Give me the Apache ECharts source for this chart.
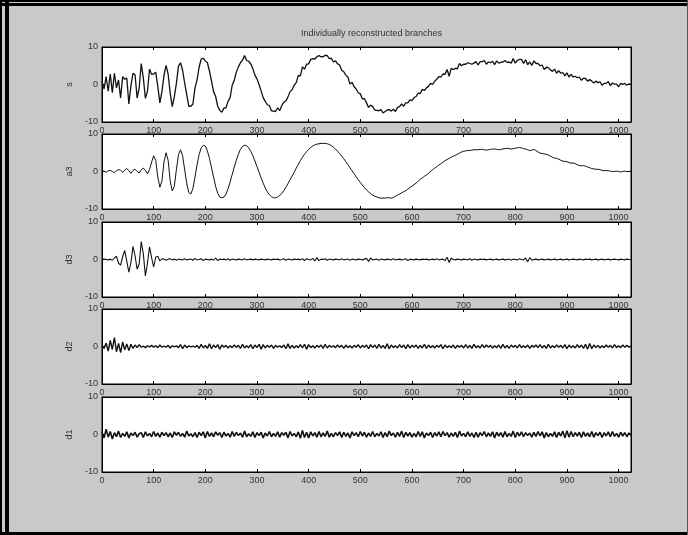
<!DOCTYPE html>
<html>
<head>
<meta charset="utf-8">
<title>Individually reconstructed branches</title>
<script src="https://cdn.jsdelivr.net/npm/echarts@6/dist/echarts.min.js"></script>
<style>
  html, body { margin: 0; padding: 0; background: #c9c9c9; }
  #chart { width: 688px; height: 535px; }
</style>
</head>
<body>
<div id="chart"></div>
<script>
// samples are read every 4 points, from 0 to 1024
const step = 4;
const xTicks = [0, 100, 200, 300, 400, 500, 600, 700, 800, 900, 1000];
const yTicks = [-10, 0, 10];
const names = ["s", "a3", "d3", "d2", "d1"];
const title = "Individually reconstructed branches";

const s = [
  0.8, -1.2, 2.1, -1.8, 2.8, -2.2, 3.0, -0.9, 1.2, -3.6, 2.1, 1.4, 1.7, -5.2, -0.3, 3.0,
  2.6, -3.6, -0.9, 5.6, 1.7, -3.7, -1.8, 4.1, 2.7, 2.8, 3.3, -0.5, -4.9, -1.9, 2.4, 5.1,
  2.8, -2.3, -5.9, -3.3, 0.3, 4.9, 5.8, 3.8, 0.4, -2.7, -5.8, -5.8, -5.2, -0.9, 1.2, 4.6,
  6.8, 7.0, 6.3, 5.8, 3.6, 0.9, -1.9, -3.2, -5.8, -6.9, -7.4, -6.3, -6.2, -4.5, -3.5, -0.2,
  1.1, 3.3, 4.7, 5.8, 6.5, 7.7, 6.4, 6.2, 5.5, 4.2, 2.5, 1.5, 0.0, -1.7, -3.5, -4.5,
  -5.4, -5.6, -7.0, -7.1, -7.2, -6.2, -7.0, -5.6, -4.7, -4.4, -3.3, -1.9, -1.4, -0.2, 0.5, 2.4,
  2.3, 4.7, 4.1, 5.4, 5.5, 6.7, 6.9, 6.8, 7.4, 7.7, 7.4, 7.4, 7.8, 7.7, 6.9, 7.0,
  6.0, 6.3, 5.5, 5.2, 3.8, 3.4, 2.5, 2.0, 0.1, 0.6, -0.6, -1.2, -2.2, -2.5, -3.8, -3.8,
  -4.9, -6.1, -5.5, -5.9, -6.8, -6.9, -7.0, -6.7, -7.6, -7.2, -6.8, -6.7, -7.1, -6.6, -7.2, -6.1,
  -5.9, -5.2, -5.8, -4.9, -4.9, -4.1, -4.3, -3.5, -3.2, -2.3, -2.4, -1.3, -1.6, -0.9, -0.5, 0.3,
  0.0, 0.9, 1.4, 2.1, 2.0, 2.8, 2.7, 4.0, 2.2, 4.3, 4.0, 4.3, 4.2, 5.6, 5.0, 5.4,
  5.4, 5.8, 5.6, 5.4, 5.7, 6.1, 5.2, 6.1, 6.1, 6.4, 5.4, 6.0, 5.8, 6.2, 5.3, 6.3,
  5.7, 5.9, 6.0, 6.4, 5.9, 6.0, 5.7, 6.9, 5.7, 6.4, 6.7, 6.7, 5.6, 6.6, 5.3, 6.0,
  5.1, 6.3, 5.6, 5.6, 5.0, 5.2, 4.0, 4.6, 4.5, 3.9, 3.5, 4.1, 3.0, 3.7, 3.0, 3.2,
  2.3, 3.1, 2.0, 2.7, 2.0, 2.2, 1.8, 2.0, 1.1, 1.7, 1.6, 0.9, 1.3, 0.9, 0.4, 0.9,
  0.5, 0.7, -0.2, 0.3, 0.3, 0.8, -0.3, 0.4, 0.1, 0.1, -0.6, 0.3, 0.0, 0.3, -0.2, 0.2,
  0.0
];

const a3 = [
  0, 0.1, -0.2, 0.2, 0.3, 0, -0.3, 0.2, 0.5, 0.3, -0.2, 0.4, 0.8, 0.2, -0.5, 0.3,
  0.6, 0, -0.4, 0.5, 0.9, 0.3, -0.6, 0.5, 2.5, 4.2, 3.0, -1.5, -4.2, -2.5, 2.5, 5.0,
  3.0, -2.5, -5.2, -4.0, 0.5, 4.5, 5.8, 4.2, 0.5, -3.2, -5.6, -6.0, -4.5, -1.5, 1.8, 4.5,
  6.3, 7.0, 6.8, 5.5, 3.5, 1.0, -1.5, -4.0, -5.8, -6.8, -7.0, -6.8, -6.0, -4.6, -2.8, -0.8,
  1.2, 3.0, 4.6, 5.9, 6.7, 7.0, 6.9, 6.3, 5.4, 4.2, 2.8, 1.3, -0.2, -1.7, -3.1, -4.4,
  -5.4, -6.2, -6.7, -7.0, -7.0, -6.8, -6.4, -5.8, -5.1, -4.2, -3.2, -2.2, -1.2, -0.2, 0.9, 1.9,
  2.9, 3.8, 4.6, 5.3, 5.9, 6.4, 6.8, 7.1, 7.3, 7.4, 7.5, 7.5, 7.5, 7.4, 7.2, 6.9,
  6.5, 6.0, 5.4, 4.8, 4.1, 3.4, 2.6, 1.8, 1.0, 0.2, -0.6, -1.4, -2.2, -2.9, -3.6, -4.3,
  -4.9, -5.4, -5.9, -6.3, -6.6, -6.8, -7.0, -7.1, -7.1, -7.1, -7.0, -7.0, -7.1, -6.9, -6.6, -6.3,
  -6.0, -5.7, -5.4, -5.1, -4.7, -4.3, -3.9, -3.5, -3.1, -2.6, -2.1, -1.7, -1.3, -0.9, -0.5, 0.0,
  0.5, 0.9, 1.3, 1.7, 2.1, 2.5, 2.9, 3.2, 3.5, 3.8, 4.1, 4.3, 4.6, 4.9, 5.2, 5.4,
  5.5, 5.6, 5.6, 5.7, 5.8, 5.8, 5.8, 5.9, 5.9, 5.8, 5.7, 5.8, 5.9, 6.0, 6.0, 5.9,
  5.8, 5.9, 6.0, 6.1, 6.2, 6.1, 6.0, 6.1, 6.2, 6.3, 6.4, 6.3, 6.1, 6.0, 5.8, 5.6,
  5.7, 5.9, 5.6, 5.2, 4.9, 4.8, 4.7, 4.6, 4.4, 4.1, 3.8, 3.6, 3.5, 3.3, 3.0, 2.8,
  2.7, 2.6, 2.4, 2.2, 2.3, 2.1, 1.8, 1.6, 1.5, 1.6, 1.4, 1.2, 1.0, 0.8, 0.7, 0.6,
  0.6, 0.5, 0.3, 0.2, 0.3, 0.2, 0.1, 0.0, 0.0, 0.1, 0.0, -0.1, 0.0, 0.1, 0.0, 0.0,
  0.1
];

const d3 = [
  0, 0.1, 0, -0.1, 0.1, -0.2, 0.4, 0.9, -1.0, -1.5, 0.8, 2.4, -0.5, -3.4, -0.8, 3.5,
  1.0, -2.6, -1.2, 4.8, 1.5, -4.4, -1.0, 3.4, 0.5, -2.0, 0.6, 0.9, -0.4, 0.2, 0.1, -0.2,
  0.1, 0.2, -0.1, 0.1, -0.2, 0.1, 0.0, -0.1, 0.2, -0.1, 0.0, 0.1, -0.2, 0.3, -0.1, 0.0,
  0.2, -0.3, 0.1, 0.0, -0.1, 0.1, -0.2, 0.4, -0.3, 0.1, 0.0, 0.1, -0.1, 0.2, -0.2, 0.1,
  0.0, -0.1, 0.1, 0.0, -0.1, 0.2, -0.1, 0.0, 0.1, -0.1, 0.1, 0.0, -0.1, 0.1, 0.0, -0.1,
  0.1, 0.0, -0.1, 0.1, 0.0, 0.1, -0.1, 0.0, 0.2, -0.2, 0.1, 0.0, -0.1, 0.1, 0.0, 0.1,
  -0.1, 0.2, -0.3, 0.2, 0.0, -0.1, 0.3, -0.4, 0.5, -0.3, 0.1, 0.0, 0.2, -0.2, 0.1, 0.0,
  -0.1, 0.1, 0.0, -0.1, 0.2, -0.1, 0.0, 0.1, -0.2, 0.1, 0.0, -0.1, 0.1, 0.0, -0.1, 0.1,
  0.3, -0.5, 0.4, -0.1, 0.0, 0.1, -0.2, 0.1, 0.0, -0.1, 0.1, 0.0, -0.1, 0.2, -0.1, 0.0,
  0.1, -0.1, 0.0, 0.2, -0.3, 0.1, 0.0, -0.1, 0.1, 0.0, -0.1, 0.1, 0.0, 0.1, -0.1, 0.0,
  0.1, -0.1, 0.2, -0.1, 0.0, 0.1, -0.3, 0.6, -0.8, 0.4, 0.0, -0.1, 0.1, 0.0, -0.1, 0.1,
  0.0, -0.1, 0.2, -0.2, 0.1, 0.0, -0.1, 0.1, 0.0, 0.1, -0.1, 0.0, 0.1, -0.1, 0.0, 0.1,
  -0.1, 0.0, 0.1, -0.1, 0.0, 0.1, -0.2, 0.1, 0.0, -0.1, 0.2, 0.0, -0.1, 0.4, -0.6, 0.5,
  -0.2, 0.0, 0.1, -0.1, 0.0, 0.1, -0.1, 0.0, 0.1, -0.1, 0.0, 0.1, -0.1, 0.0, 0.1, -0.1,
  0.0, 0.1, -0.1, 0.0, 0.1, 0.0, -0.1, 0.1, 0.0, -0.1, 0.1, 0.0, 0.1, -0.1, 0.0, 0.1,
  -0.1, 0.0, 0.1, -0.1, 0.0, 0.1, -0.1, 0.0, 0.1, 0.0, -0.1, 0.1, 0.0, -0.1, 0.1, 0.0,
  0.0
];

const d2 = [
  0.2, -0.5, 0.9, -1.2, 1.6, -0.8, 2.4, -1.4, 0.8, -1.6, 1.2, -0.9, 0.7, -1.1, 0.6, -0.5,
  0.4, -0.3, 0.5, -0.2, 0.1, -0.3, 0.2, -0.1, 0.3, -0.2, 0.2, -0.3, 0.4, -0.2, 0.1, -0.2,
  0.3, -0.4, 0.2, -0.1, 0.2, -0.3, 0.5, -0.6, 0.4, -0.3, 0.2, -0.1, 0.1, -0.2, 0.3, -0.5,
  0.6, -0.4, 0.3, -0.5, 0.7, -0.6, 0.4, -0.3, 0.5, -0.7, 0.4, -0.2, 0.3, -0.4, 0.2, -0.3,
  0.4, -0.2, 0.3, -0.5, 0.6, -0.4, 0.2, -0.3, 0.5, -0.6, 0.4, -0.3, 0.6, -0.7, 0.5, -0.4,
  0.3, -0.2, 0.4, -0.5, 0.3, -0.2, 0.2, -0.3, 0.4, -0.6, 0.7, -0.5, 0.3, -0.4, 0.2, -0.3,
  0.5, -0.4, 0.6, -0.7, 0.5, -0.3, 0.2, -0.4, 0.3, -0.2, 0.4, -0.5, 0.6, -0.4, 0.3, -0.2,
  0.2, -0.3, 0.4, -0.2, 0.3, -0.5, 0.4, -0.3, 0.2, -0.4, 0.3, -0.2, 0.5, -0.4, 0.3, -0.2,
  0.4, -0.6, 0.5, -0.3, 0.4, -0.5, 0.6, -0.4, 0.3, -0.5, 0.7, -0.6, 0.4, -0.3, 0.2, -0.4,
  0.5, -0.3, 0.4, -0.6, 0.5, -0.4, 0.3, -0.2, 0.4, -0.5, 0.3, -0.4, 0.6, -0.5, 0.4, -0.3,
  0.2, -0.4, 0.3, -0.2, 0.5, -0.6, 0.4, -0.3, 0.2, -0.3, 0.4, -0.5, 0.3, -0.2, 0.3, -0.4,
  0.5, -0.4, 0.3, -0.5, 0.6, -0.3, 0.2, -0.4, 0.5, -0.3, 0.4, -0.2, 0.3, -0.4, 0.2, -0.3,
  0.4, -0.5, 0.6, -0.4, 0.3, -0.5, 0.4, -0.2, 0.3, -0.4, 0.5, -0.3, 0.2, -0.3, 0.4, -0.5,
  0.3, -0.2, 0.4, -0.3, 0.5, -0.4, 0.3, -0.5, 0.6, -0.4, 0.2, -0.3, 0.4, -0.2, 0.3, -0.4,
  0.5, -0.6, 0.4, -0.3, 0.2, -0.4, 0.5, -0.3, 0.4, -0.5, 0.6, -0.7, 0.8, -0.6, 0.4, -0.3,
  0.3, -0.4, 0.2, -0.3, 0.4, -0.2, 0.3, -0.4, 0.5, -0.3, 0.2, -0.3, 0.4, -0.2, 0.3, -0.2,
  0.1
];

const d1 = [
  0.6, -0.9, 1.4, -0.7, 0.8, -1.2, 0.5, -0.6, 0.9, -0.8, 0.3, -0.5, 0.7, -0.9, 0.4, -0.3,
  0.6, -0.7, 0.2, 0.5, -0.8, 0.7, -0.4, 0.3, -0.6, 0.8, -0.5, 0.4, -0.7, 0.6, -0.3, 0.5,
  -0.6, 0.4, -0.8, 0.7, -0.2, 0.6, -0.5, 0.3, -0.7, 0.9, -0.4, 0.2, -0.6, 0.5, -0.8, 0.6,
  -0.3, 0.7, -0.9, 0.8, -0.5, 0.4, -0.6, 0.7, -0.2, 0.5, -0.8, 0.6, -0.4, 0.3, -0.7, 0.8,
  -0.5, 0.6, -0.3, 0.4, -0.7, 0.9, -0.6, 0.2, -0.5, 0.7, -0.8, 0.5, -0.3, 0.6, -0.9, 0.4,
  -0.4, 0.8, -0.6, 0.3, -0.5, 0.7, -0.7, 0.5, -0.2, 0.6, -0.9, 0.8, -0.4, 0.3, -0.6, 0.7,
  -1.0, 1.1, -0.8, 0.6, -0.9, 0.7, -0.4, 0.5, -0.7, 0.8, -0.6, 0.4, -0.5, 0.9, -0.7, 0.3,
  -0.6, 0.5, -0.3, 0.7, -0.8, 0.6, -0.5, 0.4, -0.9, 0.7, -0.3, 0.5, -0.6, 0.8, -0.4, 0.6,
  -0.7, 0.4, -0.5, 0.8, -0.6, 0.3, -0.4, 0.7, -0.8, 0.5, -0.6, 0.9, -0.3, 0.4, -0.7, 0.6,
  -0.5, 0.9, -0.8, 0.6, -0.4, 0.5, -0.7, 0.3, -0.6, 0.8, -0.5, 0.7, -0.9, 0.4, -0.3, 0.6,
  -0.8, 0.5, -0.4, 0.7, -0.6, 0.8, -0.3, 0.5, -0.7, 0.4, -0.5, 0.6, -0.8, 0.9, -0.4, 0.3,
  -0.6, 0.7, -0.5, 0.4, -0.8, 0.6, -0.7, 0.5, -0.3, 0.8, -0.6, 0.4, -0.5, 0.7, -0.9, 0.6,
  -0.4, 0.5, -0.7, 0.8, -0.6, 0.3, -0.5, 0.9, -0.8, 0.6, -0.4, 0.7, -0.6, 0.5, -0.3, 0.4,
  -0.7, 0.6, -0.5, 0.8, -0.4, 0.7, -0.9, 0.5, -0.6, 0.3, -0.5, 0.7, -0.8, 0.6, -0.4, 0.9,
  -0.9, 1.0, -0.7, 0.8, -0.6, 0.5, -0.4, 0.6, -0.8, 0.7, -0.5, 0.4, -0.6, 0.8, -0.7, 0.5,
  -0.3, 0.6, -0.8, 0.5, -0.4, 0.7, -0.6, 0.8, -0.5, 0.3, -0.7, 0.6, -0.4, 0.5, -0.6, 0.4,
  -0.2
];

const panels = [s, a3, d3, d2, d1];

// layout of the five stacked axes
const plotLeft = 102;
const plotRight = 57;
const plotTops = [47, 134, 222, 309, 397];
const plotHeight = 75;
const lineWidths = [1.3, 1, 1.1, 1.4, 1.6];

const font = "Liberation Sans, Arial, sans-serif";
const textColor = "#333";

function toPairs(arr) {
  return arr.map((v, i) => [i * step, v]);
}

let grids = [];
let xAxes = [];
let yAxes = [];
let series = [];

panels.forEach((data, i) => {
  grids.push({
    left: plotLeft,
    right: plotRight,
    top: plotTops[i],
    height: plotHeight,
    show: true,
    backgroundColor: "#fff",
    borderColor: "#000",
    borderWidth: 1
  });
  // bottom axis with labels
  xAxes.push({
    type: "value",
    gridIndex: i,
    position: "bottom",
    min: 0,
    max: 1024,
    axisLine: { show: true, onZero: false, lineStyle: { color: "#000" } },
    axisTick: { show: true, inside: true, length: 3, customValues: xTicks, lineStyle: { color: "#000" } },
    axisLabel: {
      customValues: xTicks,
      margin: 4,
      fontSize: 9,
      fontFamily: font,
      color: textColor,
      formatter: (v) => String(v)
    },
    splitLine: { show: false }
  });
  // top axis, ticks only
  xAxes.push({
    type: "value",
    gridIndex: i,
    position: "top",
    min: 0,
    max: 1024,
    axisLine: { show: true, onZero: false, lineStyle: { color: "#000" } },
    axisTick: { show: true, inside: true, length: 3, customValues: xTicks, lineStyle: { color: "#000" } },
    axisLabel: { show: false },
    splitLine: { show: false }
  });
  yAxes.push({
    type: "value",
    gridIndex: i,
    position: "left",
    min: -10,
    max: 10,
    interval: 10,
    name: names[i],
    nameLocation: "middle",
    nameRotate: 90,
    nameGap: 24,
    nameTextStyle: { fontSize: 9, fontFamily: font, color: textColor },
    axisLine: { show: true, onZero: false, lineStyle: { color: "#000" } },
    axisTick: { show: true, inside: true, length: 3, customValues: yTicks, lineStyle: { color: "#000" } },
    axisLabel: { customValues: yTicks, margin: 4, fontSize: 9, fontFamily: font, color: textColor },
    splitLine: { show: false }
  });
  yAxes.push({
    type: "value",
    gridIndex: i,
    position: "right",
    min: -10,
    max: 10,
    interval: 10,
    axisLine: { show: true, onZero: false, lineStyle: { color: "#000" } },
    axisTick: { show: true, inside: true, length: 3, customValues: yTicks, lineStyle: { color: "#000" } },
    axisLabel: { show: false },
    splitLine: { show: false }
  });
  series.push({
    name: names[i],
    type: "line",
    xAxisIndex: i * 2,
    yAxisIndex: i * 2,
    showSymbol: false,
    symbol: "none",
    lineStyle: { color: "#111", width: lineWidths[i] },
    data: toPairs(data)
  });
});

const option = {
  backgroundColor: "#c9c9c9",
  animation: false,
  title: {
    text: title,
    left: plotLeft + 529 / 2,
    top: 24,
    textAlign: "center",
    textStyle: { fontSize: 9, fontWeight: "normal", fontFamily: font, color: textColor }
  },
  // window frame round the figure
  graphic: [
    { type: "rect", left: 0, top: 0, shape: { width: 688, height: 2 }, style: { fill: "#000" } },
    { type: "rect", left: 0, top: 3, shape: { width: 688, height: 3 }, style: { fill: "#000" } },
    { type: "rect", left: 0, top: 0, shape: { width: 2, height: 535 }, style: { fill: "#000" } },
    { type: "rect", left: 5, top: 0, shape: { width: 4, height: 535 }, style: { fill: "#000" } },
    { type: "rect", left: 0, top: 532, shape: { width: 688, height: 3 }, style: { fill: "#000" } },
    { type: "rect", left: 687, top: 0, shape: { width: 1, height: 535 }, style: { fill: "#555" } }
  ],
  grid: grids,
  xAxis: xAxes,
  yAxis: yAxes,
  series: series
};

const chart = echarts.init(document.getElementById("chart"));
chart.setOption(option);
</script>
</body>
</html>
